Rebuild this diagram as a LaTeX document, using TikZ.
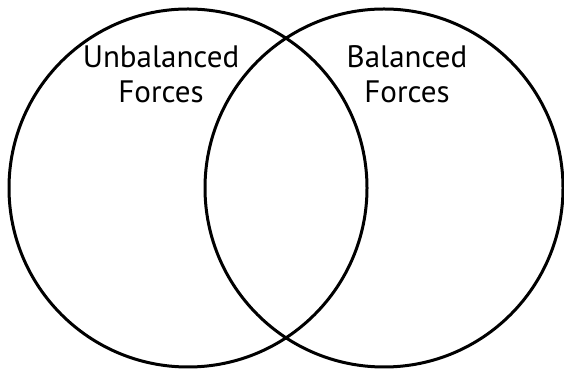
\documentclass[tikz,border=0pt]{standalone}
\usepackage{fontspec}
\setmainfont{PT Sans}
\begin{document}
\begin{tikzpicture}[x=1pt, y=1pt]
\tikzstyle{c} = [circle, draw=black, line width=3pt, minimum size=358pt, inner sep=0pt]
\tikzstyle{t} = [align=center, inner sep=0pt, font=\fontsize{31}{35}\selectfont]

\useasboundingbox (0, 0) rectangle (564, 371);

\node[c] (U) at (188, 183) {};
\node[c] (B) at (384, 183) {};
\node[t] (UL) at (161, 297) {Unbalanced\\Forces};
\node[t] (BL) at (407, 297) {Balanced\\Forces};
\end{tikzpicture}
\end{document}
